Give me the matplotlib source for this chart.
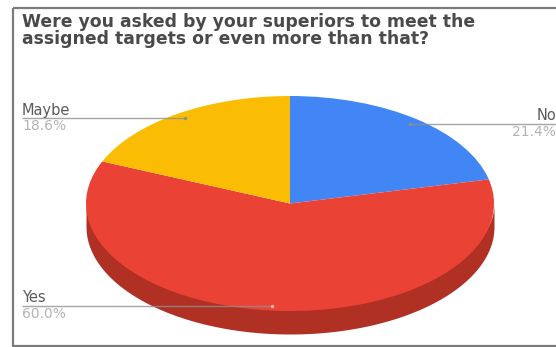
import numpy as np
import matplotlib
matplotlib.use("Agg")
import matplotlib.pyplot as plt
from matplotlib.patches import Rectangle

categories = ["No", "Yes", "Maybe"]
shares = [21.4, 60.0, 18.6]
tick_labels = ["21.4%", "60.0%", "18.6%"]
colors = ["#4285F4", "#EA4335", "#FBBC04"]
title_lines = ["Were you asked by your superiors to meet the",
               "assigned targets or even more than that?"]

W, H = 556, 347
plt.rcParams["font.family"] = ["DejaVu Sans"]
fig = plt.figure(figsize=(W / 100, H / 100), dpi=100, facecolor="white")

# Frame and text work in pixel coordinates, y downwards
page = fig.add_axes([0, 0, 1, 1], zorder=1)
page.set_xlim(0, W)
page.set_ylim(H, 0)
page.axis("off")
page.add_patch(Rectangle((13, 8), W, 337.5, fill=False, ec="#7c7c7c", lw=1.6, clip_on=True))

# The pie sits in an axes whose unit circle stretches to the ellipse
cx, cy, rx, ry, depth = 290, 203.5, 204, 107.5, 23
pie_ax = fig.add_axes([(cx - rx) / W, 1 - (cy + ry) / H, 2 * rx / W, 2 * ry / H], zorder=2)
theta = np.linspace(np.pi, 2 * np.pi, 200)
wall = depth / ry
# Side wall starts inside the top face so no seam shows along the rim
pie_ax.fill_between(np.cos(theta), 0.9 * np.sin(theta), np.sin(theta) - wall,
                    color="#B03024", lw=0, clip_on=False)
pie_ax.pie(shares, colors=colors, startangle=90, counterclock=False, radius=1,
           wedgeprops={"lw": 0})
pie_ax.set_aspect("auto")
pie_ax.set_xlim(-1, 1)
pie_ax.set_ylim(-1, 1)
pie_ax.axis("off")
for p in pie_ax.patches:
    p.set_clip_on(False)

# Leader lines and their labels go above the pie
over = fig.add_axes([0, 0, 1, 1], zorder=3)
over.set_xlim(0, W)
over.set_ylim(H, 0)
over.axis("off")
name_color, value_color, line_color = "#5a5a5a", "#b4b4b4", "#8f8f8f"
leaders = {"No": (410, 556, 123.5), "Yes": (22, 272, 306), "Maybe": (22, 185, 118)}
for name, share_text in zip(categories, tick_labels):
    x0, x1, y = leaders[name]
    over.plot([x0, x1], [y, y], color=line_color, lw=1, alpha=0.8, solid_capstyle="butt")
    tip = x0 if name == "No" else x1
    over.plot([tip], [y], "o", ms=2.5, color="#f3b0aa" if name == "Yes" else line_color, mew=0)
    tx, ha = (556, "right") if name == "No" else (22, "left")
    over.text(tx, y - 8, name, ha=ha, va="center", fontsize=10.5, color=name_color)
    over.text(tx, y + 8, share_text, ha=ha, va="center", fontsize=10, color=value_color)

for line, y in zip(title_lines, [22, 39]):
    over.text(22, y, line, ha="left", va="center", fontsize=12.4, color="#4a4a4a",
              fontweight="bold")

fig.savefig("out.png", dpi=100)
